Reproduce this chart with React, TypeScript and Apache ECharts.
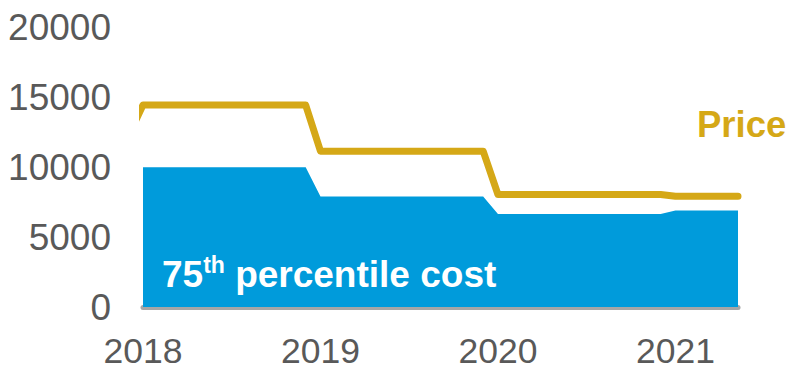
import React, { useEffect, useRef } from "react";
import * as echarts from "echarts";

// Tick labels
const yearTicks = [2018, 2019, 2020, 2021];
const valueTicks = [0, 5000, 10000, 15000, 20000];

// Price series (dates as YYYY-MM-DD)
const priceDates = [
  "2017-12-01", "2018-01-01", "2018-12-01", "2019-01-01", "2019-12-01",
  "2020-01-01", "2020-12-01", "2021-01-01", "2021-05-08",
];
const priceValues = [12200, 14450, 14450, 11150, 11150, 8050, 8050, 7920, 7920];

// 75th percentile cost series
const costDates = [
  "2018-01-01", "2018-12-01", "2019-01-01", "2019-12-01",
  "2020-01-01", "2020-12-01", "2021-01-01", "2021-05-08",
];
const costValues = [10000, 10000, 7900, 7900, 6650, 6650, 6900, 6900];

const GOLD = "#D5A817";
const BLUE = "#009BDB";
const GRAY = "#595959";
const FONT = "'Liberation Sans', Arial, sans-serif";

function toYear(d: string): number {
  const [y, m, day] = d.split("-").map(Number);
  return y + (m - 1) / 12 + (day - 1) / 365;
}

export default function App() {
  const ref = useRef<HTMLDivElement>(null);
  useEffect(() => {
    if (!ref.current) return;
    const chart = echarts.init(ref.current, undefined, { renderer: "svg" });
    const priceData = priceDates.map((d, i) => [toYear(d), priceValues[i]]);
    const costData = costDates.map((d, i) => [toYear(d), costValues[i]]);
    const xMax = toYear(costDates[costDates.length - 1]);
    chart.setOption({
      animation: false,
      grid: { left: 143, right: 51, top: 27.5, bottom: 61.5, containLabel: false },
      xAxis: {
        type: "value",
        min: yearTicks[0],
        max: xMax,
        interval: 1,
        axisLine: { show: true, lineStyle: { color: "#A6A6A6", width: 5 } },
        axisTick: { show: false },
        splitLine: { show: false },
        axisLabel: {
          margin: 30,
          fontSize: 35.5,
          lineHeight: 28,
          fontFamily: FONT,
          color: GRAY,
          showMaxLabel: false,
          formatter: (v: number) => {
            const r = Math.round(v);
            return yearTicks.includes(r) && Math.abs(v - r) < 1e-6 ? String(r) : "";
          },
        },
      },
      yAxis: {
        type: "value",
        min: valueTicks[0],
        max: valueTicks[valueTicks.length - 1],
        interval: valueTicks[1] - valueTicks[0],
        axisLine: { show: false },
        axisTick: { show: false },
        splitLine: { show: false },
        axisLabel: {
          margin: 32,
          fontSize: 37,
          fontFamily: FONT,
          color: GRAY,
          formatter: (v: number) => String(v),
        },
      },
      series: [
        {
          name: "75th percentile cost",
          type: "line",
          data: costData,
          symbol: "none",
          lineStyle: { width: 0 },
          areaStyle: { color: BLUE, opacity: 1 },
          itemStyle: { color: BLUE },
          z: 2,
        },
        {
          name: "Price",
          type: "line",
          data: priceData,
          symbol: "none",
          clip: true,
          lineStyle: { color: GOLD, width: 7, cap: "round", join: "round" },
          itemStyle: { color: GOLD },
          z: 3,
        },
      ],
      graphic: [
        {
          type: "text",
          left: 697,
          top: 106,
          z: 10,
          style: {
            text: "Price",
            fill: GOLD,
            font: `bold 36.5px ${FONT}`,
          },
        },
        {
          type: "text",
          x: 162,
          y: 253,
          z: 10,
          style: {
            text: "{a|75}{b|th}{a| percentile cost}",
            fill: "#ffffff",
            textVerticalAlign: "top",
            rich: {
              a: { fontSize: 37, fontWeight: "bold", fontFamily: FONT, fill: "#ffffff", lineHeight: 40, verticalAlign: "bottom" },
              b: { fontSize: 23, fontWeight: "bold", fontFamily: FONT, fill: "#ffffff", lineHeight: 26, verticalAlign: "top" },
            },
          },
        },
      ],
    });
    return () => chart.dispose();
  }, []);
  return (
    <div
      ref={ref}
      style={{ position: "absolute", left: 0, top: 0, width: 789, height: 369 }}
    />
  );
}
